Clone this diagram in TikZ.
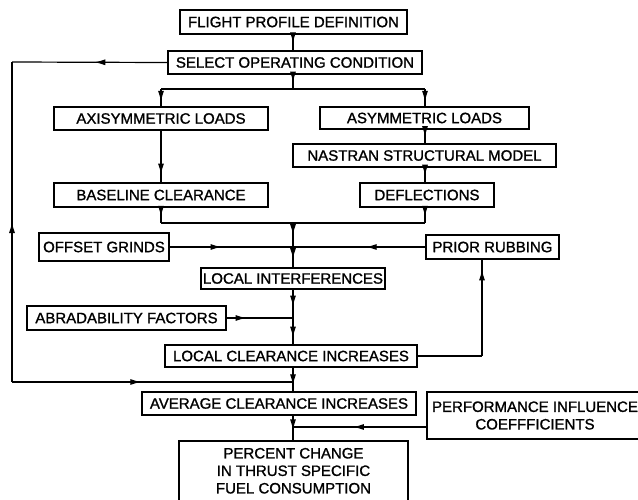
\documentclass[tikz,border=0pt]{standalone}
\usepackage{fontspec}
\setmainfont{Liberation Sans}[FakeBold=1.2]
\usetikzlibrary{arrows.meta,decorations.markings}

\tikzset{
  blk/.style={draw, line width=1.5pt, inner sep=0pt, align=center,
    font=\fontsize{15}{17.5}\selectfont},
  ln/.style={line width=1.2pt},
  tip/.style={postaction={decorate, decoration={markings,
    mark=at position #1 with {\arrow{Latex[length=11pt,width=6pt]}}}}},
  rtip/.style={postaction={decorate, decoration={markings,
    mark=at position #1 with {\arrowreversed{Latex[length=11pt,width=6pt]}}}}}
}

\begin{document}
\begin{tikzpicture}[x=1pt,y=-1pt]
        \clip (0,0) rectangle (638,499);
        \fill[white] (0,0) rectangle (638,499);

        % Les blocs
        \node[blk, minimum width=227pt, minimum height=24pt] (flight) at (293.5,22) {FLIGHT PROFILE DEFINITION};
        \node[blk, minimum width=254pt, minimum height=23pt] (select) at (295,62.5) {SELECT OPERATING CONDITION};
        \node[blk, minimum width=214pt, minimum height=23pt] (axi) at (161,118.5) {AXISYMMETRIC LOADS};
        \node[blk, minimum width=209pt, minimum height=22pt] (asym) at (424.5,118) {ASYMMETRIC LOADS};
        \node[blk, minimum width=263pt, minimum height=23pt] (nastran) at (424.5,155.5) {NASTRAN STRUCTURAL MODEL};
        \node[blk, minimum width=214pt, minimum height=24pt] (base) at (161,195) {BASELINE CLEARANCE};
        \node[blk, minimum width=134pt, minimum height=24pt] (defl) at (427,195) {DEFLECTIONS};
        \node[blk, minimum width=130pt, minimum height=28pt] (offset) at (104,247) {OFFSET GRINDS};
        \node[blk, minimum width=133pt, minimum height=24pt] (prior) at (492.5,247) {PRIOR RUBBING};
        \node[blk, minimum width=184pt, minimum height=21pt] (locint) at (293,278.5) {LOCAL INTERFERENCES};
        \node[blk, minimum width=199pt, minimum height=24pt] (abrad) at (126.5,318) {ABRADABILITY FACTORS};
        \node[blk, minimum width=252pt, minimum height=22pt] (loccl) at (291,356) {LOCAL CLEARANCE INCREASES};
        \node[blk, minimum width=274pt, minimum height=23pt] (avg) at (279,403.5) {AVERAGE CLEARANCE INCREASES};
        \node[blk, minimum width=216pt, minimum height=47pt] (perf) at (535,415.5) {PERFORMANCE INFLUENCE\\COEFFFICIENTS};
        \node[blk, minimum width=229pt, minimum height=59.5pt] (pct) at (293.5,470.75) {PERCENT CHANGE\\IN THRUST SPECIFIC\\FUEL CONSUMPTION};

        % Points de jonction
        \coordinate (fork) at (293,89);
        \coordinate (bl) at (161,89);
        \coordinate (br) at (425,89);
        \coordinate (merge) at (293,223);
        \coordinate (jl) at (161,223);
        \coordinate (jr) at (425,223);
        \coordinate (jo) at (293,247);
        \coordinate (ja) at (293,318);
        \coordinate (jf) at (293,382);
        \coordinate (jp) at (293,427);
        \coordinate (fl1) at (12,62);
        \coordinate (fl2) at (12,382);
        \coordinate (pr) at (482,356);

        % Tronc principal
        \draw[ln, tip=.55] (flight.south -| fork) -- (select.north -| fork);
        \draw[ln, tip=.55] (select.south -| fork) -- (fork);
        \draw[ln] (bl) -- (br);
        \draw[ln, tip=.75] (bl) -- (axi.north);
        \draw[ln, tip=.75] (br) -- (asym.north -| br);
        \draw[ln, tip=.55] (asym.south -| br) -- (nastran.north -| br);
        \draw[ln, tip=.55] (nastran.south -| br) -- (defl.north -| br);
        \draw[ln, tip=.85] (axi.south) -- (base.north);
        \draw[ln, tip=.6] (base.south) -- (jl);
        \draw[ln, tip=.6] (defl.south -| br) -- (jr);
        \draw[ln] (jl) -- (jr);
        \draw[ln, tip=.5] (merge) -- (jo);
        \draw[ln, tip=.6] (jo) -- (locint.north -| jo);
        \draw[ln, tip=.6] (locint.south -| jo) -- (ja);
        \draw[ln, tip=.75] (ja) -- (loccl.north -| ja);
        \draw[ln, tip=.75] (loccl.south -| jf) -- (avg.north -| jf);
        \draw[ln, tip=.6] (avg.south -| jp) -- (pct.north -| jp);

        % Entrees laterales
        \draw[ln, tip=.42] (offset.east) -- (jo);
        \draw[ln, tip=.45] (prior.west) -- (jo);
        \draw[ln, tip=.3] (abrad.east) -- (ja);
        \draw[ln, tip=.55] (perf.west |- jp) -- (jp);

        % Boucles de retour
        \draw[ln, tip=.47] (select.west) -- (fl1);
        \draw[ln, rtip=.5] (fl1) -- (fl2);
        \draw[ln, tip=.46] (fl2) -- (jf);
        \draw[ln] (loccl.east) -- (pr);
        \draw[ln, tip=.9] (pr) -- (prior.south -| pr);
    \end{tikzpicture}
\end{document}
